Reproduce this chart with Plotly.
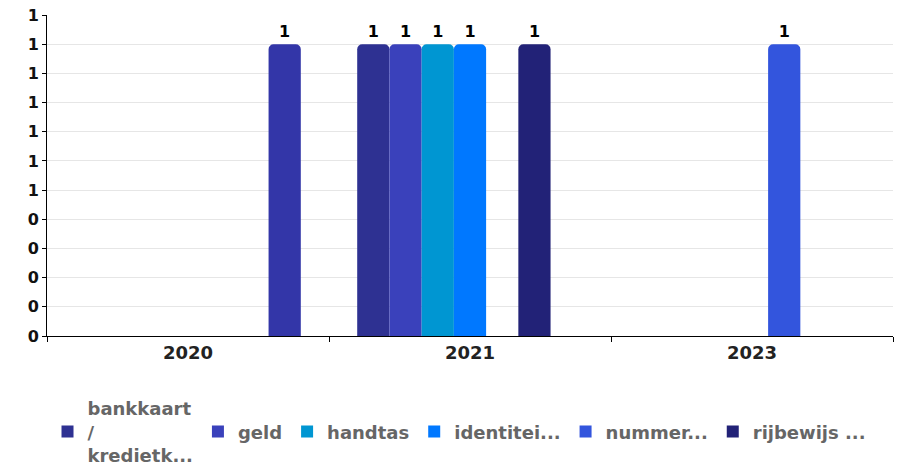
import plotly.graph_objects as go

# Categories (years) and one value list per series
years = ["2020", "2021", "2023"]

series_names = [
    "bankkaart<br>/<br>kredietk...",
    "geld",
    "handtas",
    "identitei...",
    "nummer...",
    "rijbewijs ...",
    "overig",
]
bankkaart = [None, 1, None]
geld = [None, 1, None]
handtas = [None, 1, None]
identiteit = [None, 1, None]
nummer = [None, None, 1]
rijbewijs = [None, 1, None]
overig = [1, None, None]
series_values = [bankkaart, geld, handtas, identiteit, nummer, rijbewijs, overig]

series_colors = ["#2e3192", "#3a41bb", "#0096d2", "#0078ff", "#3355dd", "#222277", "#3336a8"]
in_legend = [True, True, True, True, True, True, False]

# Y ticks every 0.1, labels shown rounded to whole numbers
y_tickvals = [0, 0.1, 0.2, 0.3, 0.4, 0.5, 0.6, 0.7, 0.8, 0.9, 1.0, 1.1]
y_ticktext = ["0", "0", "0", "0", "0", "1", "1", "1", "1", "1", "1", "1"]

FONT = "DejaVu Sans"


def legend_label(name):
    # pad single-line names to three lines so every legend entry is vertically centred
    if "<br>" in name:
        return name
    return "\u00a0<br>" + name + "<br>\u00a0"


fig = go.Figure()
for i, (name, vals, color, show) in enumerate(
        zip(series_names, series_values, series_colors, in_legend)):
    group = "s%d" % i
    fig.add_trace(go.Bar(
        x=years,
        y=vals,
        name=name,
        legendgroup=group,
        showlegend=False,
        marker=dict(color=color, cornerradius=5, line=dict(width=0)),
        text=[("%d" % v) if v is not None else "" for v in vals],
        textposition="outside",
        textfont=dict(family=FONT, size=16, weight="bold", color="#000000"),
        cliponaxis=False,
    ))

# square legend swatches, tied to the bar series through legendgroup
for i, (name, color, show) in enumerate(zip(series_names, series_colors, in_legend)):
    if not show:
        continue
    fig.add_trace(go.Scatter(
        x=[None],
        y=[None],
        mode="markers",
        name=legend_label(name),
        legendgroup="s%d" % i,
        marker=dict(symbol="square", size=12, color=color),
        hoverinfo="skip",
    ))

fig.update_layout(
    width=903,
    height=466,
    margin=dict(l=47, r=10, t=15, b=130, autoexpand=False),
    paper_bgcolor="white",
    plot_bgcolor="white",
    barmode="group",
    bargap=0.2,
    bargroupgap=0,
    font=dict(family=FONT, size=16, weight="bold"),
    xaxis=dict(
        type="category",
        categoryarray=years,
        categoryorder="array",
        showline=True,
        linecolor="#000000",
        linewidth=1,
        ticks="outside",
        tickson="boundaries",
        ticklen=5,
        tickcolor="#000000",
        showgrid=False,
        tickfont=dict(family=FONT, size=18, weight="bold", color="#222222"),
    ),
    yaxis=dict(
        range=[0, 1.1],
        tickvals=y_tickvals,
        ticktext=y_ticktext,
        showline=True,
        linecolor="#000000",
        linewidth=1,
        ticks="outside",
        ticklen=4,
        tickcolor="#000000",
        gridcolor="#e6e6e6",
        gridwidth=1,
        zeroline=False,
        tickfont=dict(family=FONT, size=16, weight="bold", color="#111111"),
    ),
    legend=dict(
        orientation="h",
        x=0.4876,
        xanchor="center",
        y=-0.299,
        yanchor="middle",
        font=dict(family=FONT, size=18, weight="bold", color="#666666"),
        valign="middle",
    ),
)

fig.write_html("out.html")
